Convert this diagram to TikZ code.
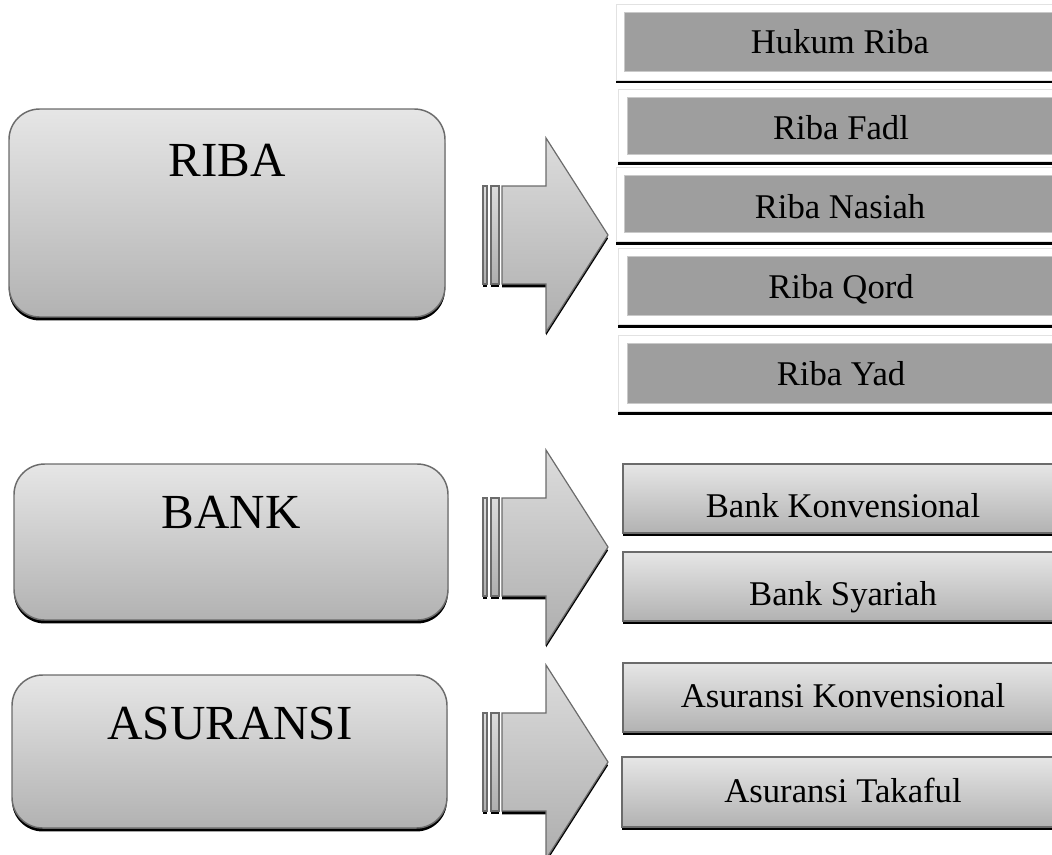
\documentclass[tikz,border=0pt]{standalone}
\usepackage{fontspec}
\setmainfont{Liberation Serif}
\usetikzlibrary{fit, shadows}
\definecolor{boxtop}{HTML}{E6E6E6}
\definecolor{boxbottom}{HTML}{B2B2B2}
\definecolor{boxline}{HTML}{6B6B6B}
\definecolor{arrowtop}{HTML}{DCDCDC}
\definecolor{arrowbottom}{HTML}{AEAEAE}
\definecolor{cellgray}{HTML}{9E9E9E}
\definecolor{celledge}{HTML}{C9C9C9}
\definecolor{framegray}{HTML}{E2E2E2}
\tikzset{
    blackshadow/.style={drop shadow={shadow xshift=0pt, shadow yshift=-2.6pt, fill=black, opacity=1}},
    leftbox/.style={rectangle, rounded corners=23pt, draw=boxline, line width=1.1pt, top color=boxtop, bottom color=boxbottom, inner sep=0pt, blackshadow},
    lefttext/.style={anchor=base, inner sep=0pt, font=\fontsize{36.75pt}{44pt}\selectfont},
    ribaframe/.style={rectangle, draw=framegray, line width=0.6pt, fill=white, inner sep=0pt, blackshadow},
    ribacell/.style={rectangle, draw=celledge, line width=0.6pt, fill=cellgray, inner sep=0pt},
    gradcell/.style={rectangle, draw=boxline, line width=0.8pt, top color=boxtop, bottom color=boxbottom, inner sep=0pt, blackshadow},
    celltext/.style={anchor=base, inner sep=0pt, font=\fontsize{26pt}{31pt}\selectfont},
    blockarrow/.style={draw=boxline, line width=0.9pt, top color=arrowtop, bottom color=arrowbottom, blackshadow}
}

\begin{document}
\begin{tikzpicture}[x=0.75pt, y=-0.75pt]
        \useasboundingbox (0,0) rectangle (1052,854);
        \clip (0,0) rectangle (1052,854);

        % --- Left: main topics ---
        \node (riba) [leftbox, fit={(9,109) (445,317)}] {};
        \node (ribaText) [lefttext] at (227,176) {RIBA};

        \node (bank) [leftbox, fit={(14,464) (448,620)}] {};
        \node (bankText) [lefttext] at (231,528) {BANK};

        \node (asuransi) [leftbox, fit={(12,675) (447,828)}] {};
        \node (asuransiText) [lefttext] at (230,739) {ASURANSI};

        % --- Block arrows ---
        \draw [blockarrow] (483,186) rectangle (487,284);
        \draw [blockarrow] (491,186) rectangle (499,284);
        \draw [blockarrow] (502,186) -- (546,186) -- (546,138) -- (608,235) -- (546,332) -- (546,284) -- (502,284) -- cycle;

        \draw [blockarrow] (483,498) rectangle (487,596);
        \draw [blockarrow] (491,498) rectangle (499,596);
        \draw [blockarrow] (502,498) -- (546,498) -- (546,450) -- (608,547) -- (546,644) -- (546,596) -- (502,596) -- cycle;

        \draw [blockarrow] (483,713) rectangle (487,811);
        \draw [blockarrow] (491,713) rectangle (499,811);
        \draw [blockarrow] (502,713) -- (546,713) -- (546,665) -- (608,762) -- (546,859) -- (546,811) -- (502,811) -- cycle;

        % --- Right: kinds of riba (they run past the right edge) ---
        \node (hukumFrame) [ribaframe, fit={(616,4) (1200,80)}] {};
        \node (hukum) [ribacell, fit={(624,12) (1200,71)}] {};
        \node (hukumText) [celltext] at (840,53) {Hukum Riba};

        \node (fadlFrame) [ribaframe, fit={(618,89) (1200,161.5)}] {};
        \node (fadl) [ribacell, fit={(627,97) (1200,154)}] {};
        \node (fadlText) [celltext] at (841,139) {Riba Fadl};

        \node (nasiahFrame) [ribaframe, fit={(616,167) (1200,241.5)}] {};
        \node (nasiah) [ribacell, fit={(624,175) (1200,232)}] {};
        \node (nasiahText) [celltext] at (840,218) {Riba Nasiah};

        \node (qordFrame) [ribaframe, fit={(618,248) (1200,324.5)}] {};
        \node (qord) [ribacell, fit={(627,256) (1200,315)}] {};
        \node (qordText) [celltext] at (841,298) {Riba Qord};

        \node (yadFrame) [ribaframe, fit={(618,335) (1200,411.5)}] {};
        \node (yad) [ribacell, fit={(627,343) (1200,403)}] {};
        \node (yadText) [celltext] at (841,385) {Riba Yad};

        % --- Right: bank and asuransi ---
        \node (bankKonv) [gradcell, fit={(623,464) (1200,533)}] {};
        \node (bankKonvText) [celltext] at (843,517) {Bank Konvensional};

        \node (bankSya) [gradcell, fit={(623,552) (1200,621)}] {};
        \node (bankSyaText) [celltext] at (843,605) {Bank Syariah};

        \node (asKonv) [gradcell, fit={(623,663) (1200,732)}] {};
        \node (asKonvText) [celltext] at (843,707) {Asuransi Konvensional};

        \node (asTak) [gradcell, fit={(622,757) (1200,827)}] {};
        \node (asTakText) [celltext] at (843,802) {Asuransi Takaful};
    \end{tikzpicture}
\end{document}
